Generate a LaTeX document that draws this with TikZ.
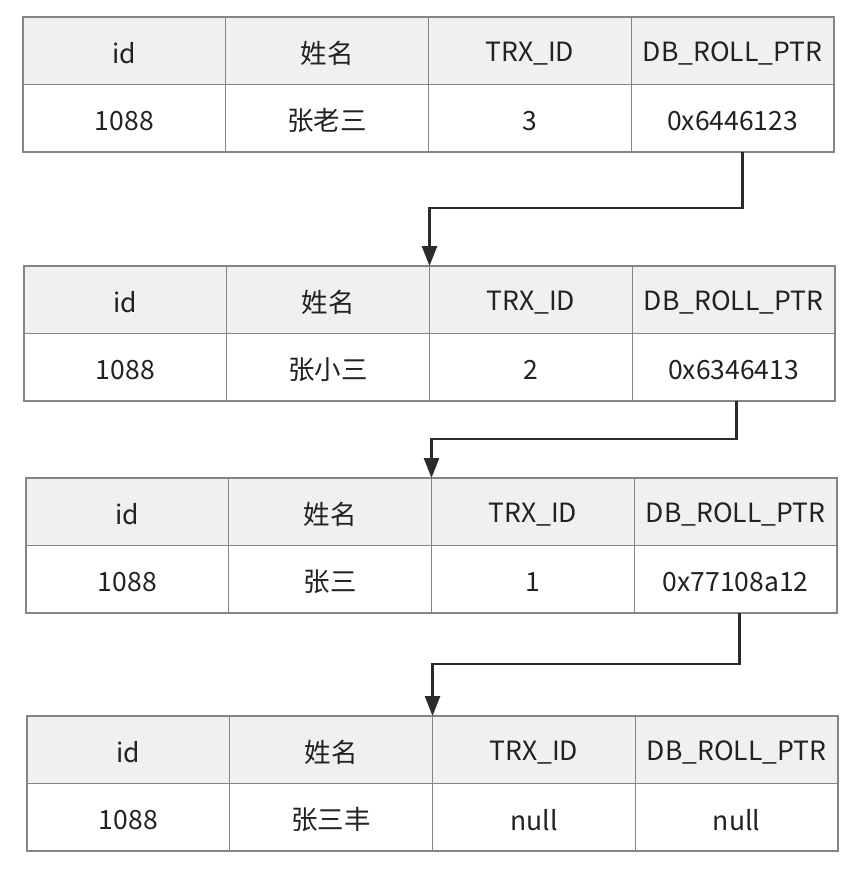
\documentclass[tikz,border=0pt]{standalone}
\usepackage{fontspec}
\setmainfont{Noto Sans CJK SC}
\usetikzlibrary{arrows.meta,calc}
\definecolor{bordergray}{HTML}{858585}
\definecolor{headfill}{HTML}{F0F0F0}
\definecolor{txt}{HTML}{222222}
\definecolor{arrowcol}{HTML}{2B2B2B}
\newcommand{\lowtext}[1]{\raisebox{-2.5pt}[\height][\depth]{#1}}
\tikzset{
  cell/.style={draw=bordergray, line width=1.4pt, rectangle, inner sep=0pt, outer sep=0pt,
    minimum width=202.75pt, minimum height=67.5pt, anchor=north west,
    font=\fontsize{26.5}{30}\selectfont, text=txt},
  headcell/.style={cell, fill=headfill},
  valcell/.style={cell, fill=white},
  ptr/.style={draw=arrowcol, line width=2.6pt, -{Triangle[length=20pt,width=15pt]}}
}
\newcommand{\undotable}[7]{%
  % #1 name, #2 left, #3 top, #4..#7 values
  \node[headcell] (#1h1) at (#2,#3) {\lowtext{id}};
  \node[headcell] (#1h2) at (#2+202.75,#3) {\lowtext{姓名}};
  \node[headcell] (#1h3) at (#2+405.5,#3) {\lowtext{TRX\_ID}};
  \node[headcell] (#1h4) at (#2+608.25,#3) {\lowtext{DB\_ROLL\_PTR}};
  \node[valcell] (#1v1) at (#2,#3+67.5) {\lowtext{#4}};
  \node[valcell] (#1v2) at (#2+202.75,#3+67.5) {\lowtext{#5}};
  \node[valcell] (#1v3) at (#2+405.5,#3+67.5) {\lowtext{#6}};
  \node[valcell] (#1v4) at (#2+608.25,#3+67.5) {\lowtext{#7}};
}
\begin{document}
\begin{tikzpicture}[x=1pt,y=-1pt]
\useasboundingbox[fill=white] (0,0) rectangle (862,870);
\undotable{a}{23}{17}{1088}{张老三}{3}{0x6446123}
\undotable{b}{24}{266}{1088}{张小三}{2}{0x6346413}
\undotable{c}{26}{478}{1088}{张三}{1}{0x77108a12}
\undotable{d}{27}{716}{1088}{张三丰}{null}{null}
\draw[ptr] ($(av4.south)+(10,0)$) -- ++(0,56) -| (bh3.north west);
\draw[ptr] ($(bv4.south)+(3,0)$) -- ++(0,38) -| (ch3.north west);
\draw[ptr] ($(cv4.south)+(4,0)$) -- ++(0,51) -| (dh3.north west);
\end{tikzpicture}
\end{document}
